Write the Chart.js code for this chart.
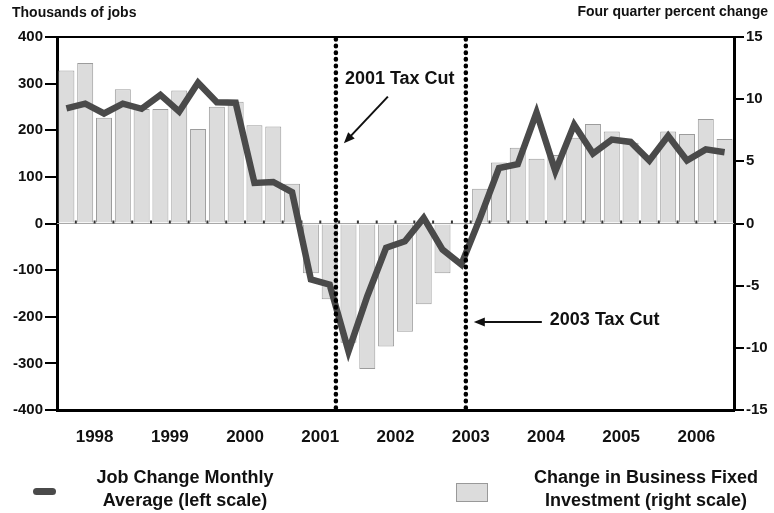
<!DOCTYPE html>
<html>
<head>
<meta charset="utf-8">
<script src="https://cdn.jsdelivr.net/npm/chart.js@4.4.1/dist/chart.umd.min.js"></script>
<style>
  body { margin: 0; background: #fff; font-family: "Liberation Sans", Arial, sans-serif; }
  #wrap { position: relative; width: 774px; height: 513px; }
  .lbl { position: absolute; font-weight: bold; color: #111; white-space: nowrap; }
  .axis-title { font-size: 14px; line-height: 14px; }
  .leg { font-size: 18px; line-height: 23px; text-align: center; }
</style>
</head>
<body>
<div id="wrap">
  <canvas id="jobs-chart" width="774" height="513"></canvas>
  <div class="lbl axis-title" style="left:12px; top:5px;">Thousands of jobs</div>
  <div class="lbl axis-title" style="right:6px; top:4px;">Four quarter percent change</div>

  <div style="position:absolute; left:33px; top:488px; width:23px; height:7px; border-radius:3.5px; background:#4a4a4a;"></div>
  <div class="lbl leg" style="left:75px; top:466px; width:220px;">Job Change Monthly<br>Average (left scale)</div>

  <div style="position:absolute; left:456px; top:483px; width:30px; height:17px; background:#dcdcdc; border:1px solid #999;"></div>
  <div class="lbl leg" style="left:521px; top:466px; width:250px;">Change in Business Fixed<br>Investment (right scale)</div>
</div>

<script>
// years shown on the axis, one bar / point per quarter
const years = ["1998", "1999", "2000", "2001", "2002", "2003", "2004", "2005", "2006"];
const quarters = years.flatMap(y => ["Q1", "Q2", "Q3", "Q4"].map(q => y + " " + q));

// job change, monthly average, thousands (left scale)
const jobChange = [
  247, 257, 236, 257, 246, 276, 240, 302, 260, 259, 87, 89,
  67, -120, -131, -274, -156, -52, -38, 12, -56, -88, 12, 119,
  127, 238, 112, 212, 150, 180, 175, 135, 188, 135, 159, 153
];

// business fixed investment, four quarter % change (right scale)
const investment = [
  12.3, 12.9, 8.5, 10.8, 9.2, 9.2, 10.7, 7.6, 9.4, 9.8, 7.9, 7.8,
  3.2, -4.0, -6.1, -9.6, -11.7, -9.9, -8.7, -6.5, -4.0, -0.1, 2.8, 4.9,
  6.1, 5.2, 5.5, 6.9, 8.0, 7.4, 6.5, 5.4, 7.4, 7.2, 8.4, 6.8
];

const leftTicks = [-400, -300, -200, -100, 0, 100, 200, 300, 400];
const rightTicks = [-15, -10, -5, 0, 5, 10, 15];

// tax cut markers, as position on the quarter axis
const taxCuts = [
  { label: "2001 Tax Cut", at: 14.33 },
  { label: "2003 Tax Cut", at: 21.24 }
];

const FONT = '"Liberation Sans", Arial, sans-serif';

function arrow(ctx, x1, y1, x2, y2) {
  const a = Math.atan2(y2 - y1, x2 - x1);
  const hl = 11, hw = 4.5;
  ctx.beginPath();
  ctx.moveTo(x1, y1);
  ctx.lineTo(x2 - Math.cos(a) * hl * 0.8, y2 - Math.sin(a) * hl * 0.8);
  ctx.stroke();
  ctx.beginPath();
  ctx.moveTo(x2, y2);
  ctx.lineTo(x2 - Math.cos(a) * hl + Math.sin(a) * hw, y2 - Math.sin(a) * hl - Math.cos(a) * hw);
  ctx.lineTo(x2 - Math.cos(a) * hl - Math.sin(a) * hw, y2 - Math.sin(a) * hl + Math.cos(a) * hw);
  ctx.closePath();
  ctx.fill();
}

const extras = {
  id: "extras",
  beforeDatasetsDraw(chart) {
    const { ctx, chartArea, scales } = chart;
    const y0 = scales.y.getPixelForValue(0);
    ctx.save();
    ctx.strokeStyle = "#a8a8a8";
    ctx.lineWidth = 1;
    ctx.beginPath();
    ctx.moveTo(chartArea.left, y0);
    ctx.lineTo(chartArea.right, y0);
    ctx.stroke();
    // little category ticks on the zero line
    ctx.strokeStyle = "#333";
    ctx.lineWidth = 2;
    for (let i = 0; i < quarters.length - 1; i++) {
      const x = scales.x.getPixelForValue(i + 0.5);
      ctx.beginPath();
      ctx.moveTo(x, y0 - 3);
      ctx.lineTo(x, y0);
      ctx.stroke();
    }
    ctx.restore();
  },
  afterDatasetsDraw(chart) {
    const { ctx, chartArea, scales } = chart;
    ctx.save();
    // dotted tax cut lines
    ctx.strokeStyle = "#000";
    ctx.lineWidth = 4.5;
    ctx.lineCap = "round";
    ctx.setLineDash([0.5, 6.2]);
    taxCuts.forEach(t => {
      const x = scales.x.getPixelForValue(t.at);
      ctx.beginPath();
      ctx.moveTo(x, chartArea.top + 2);
      ctx.lineTo(x, chartArea.bottom);
      ctx.stroke();
    });
    ctx.setLineDash([]);
    ctx.lineCap = "butt";

    // top frame line
    ctx.lineWidth = 2;
    ctx.beginPath();
    ctx.moveTo(chartArea.left, chartArea.top);
    ctx.lineTo(chartArea.right, chartArea.top);
    ctx.stroke();

    // labels and arrows
    ctx.fillStyle = "#111";
    ctx.strokeStyle = "#111";
    ctx.font = "bold 18px " + FONT;
    ctx.textBaseline = "middle";
    ctx.textAlign = "left";
    const y = scales.y;
    const x1 = scales.x.getPixelForValue(taxCuts[0].at);
    ctx.fillText(taxCuts[0].label, x1 + 9, y.getPixelForValue(310));
    ctx.lineWidth = 2;
    arrow(ctx, x1 + 52, y.getPixelForValue(272), x1 + 8, y.getPixelForValue(172));

    const x2 = scales.x.getPixelForValue(taxCuts[1].at);
    ctx.fillText(taxCuts[1].label, x2 + 84, y.getPixelForValue(-207));
    arrow(ctx, x2 + 76, y.getPixelForValue(-211), x2 + 8, y.getPixelForValue(-211));
    ctx.restore();
  }
};

const tickFont = { family: FONT, size: 15, weight: "bold" };

new Chart(document.getElementById("jobs-chart").getContext("2d"), {
  data: {
    labels: quarters,
    datasets: [
      {
        type: "line",
        label: "Job Change Monthly Average (left scale)",
        data: jobChange,
        yAxisID: "y",
        xAxisID: "x",
        borderColor: "#4a4a4a",
        borderWidth: 6.5,
        pointRadius: 0,
        tension: 0,
        order: 1
      },
      {
        type: "bar",
        label: "Change in Business Fixed Investment (right scale)",
        data: investment,
        yAxisID: "y1",
        xAxisID: "x",
        backgroundColor: "#dcdcdc",
        borderColor: "#9c9c9c",
        borderWidth: 1,
        barPercentage: 0.85,
        categoryPercentage: 1,
        order: 2
      }
    ]
  },
  options: {
    responsive: false,
    animation: false,
    layout: { padding: { top: 37, left: 0, right: 0, bottom: 0 } },
    plugins: { legend: { display: false }, tooltip: { enabled: false } },
    scales: {
      x: { type: "category", display: false, offset: true },
      years: {
        type: "category",
        labels: years,
        position: "bottom",
        offset: true,
        grid: { display: false, drawTicks: false },
        border: { display: true, color: "#000", width: 3 },
        ticks: { font: { family: FONT, size: 17, weight: "bold" }, color: "#111", padding: 17, maxRotation: 0 },
        afterFit: s => { s.height = 103; }
      },
      y: {
        position: "left",
        min: -400,
        max: 400,
        afterBuildTicks: s => { s.ticks = leftTicks.map(v => ({ value: v })); },
        ticks: { font: tickFont, color: "#111", padding: 2 },
        grid: { drawOnChartArea: false, color: "#000", lineWidth: 2, tickLength: 12 },
        border: { color: "#000", width: 3 },
        afterFit: s => { s.width = 57; }
      },
      y1: {
        position: "right",
        min: -15,
        max: 15,
        afterBuildTicks: s => { s.ticks = rightTicks.map(v => ({ value: v })); },
        ticks: { font: tickFont, color: "#111", padding: 2 },
        grid: { drawOnChartArea: false, color: "#000", lineWidth: 2, tickLength: 10 },
        border: { color: "#000", width: 3 },
        afterFit: s => { s.width = 40; }
      }
    }
  },
  plugins: [extras]
});
</script>
</body>
</html>
